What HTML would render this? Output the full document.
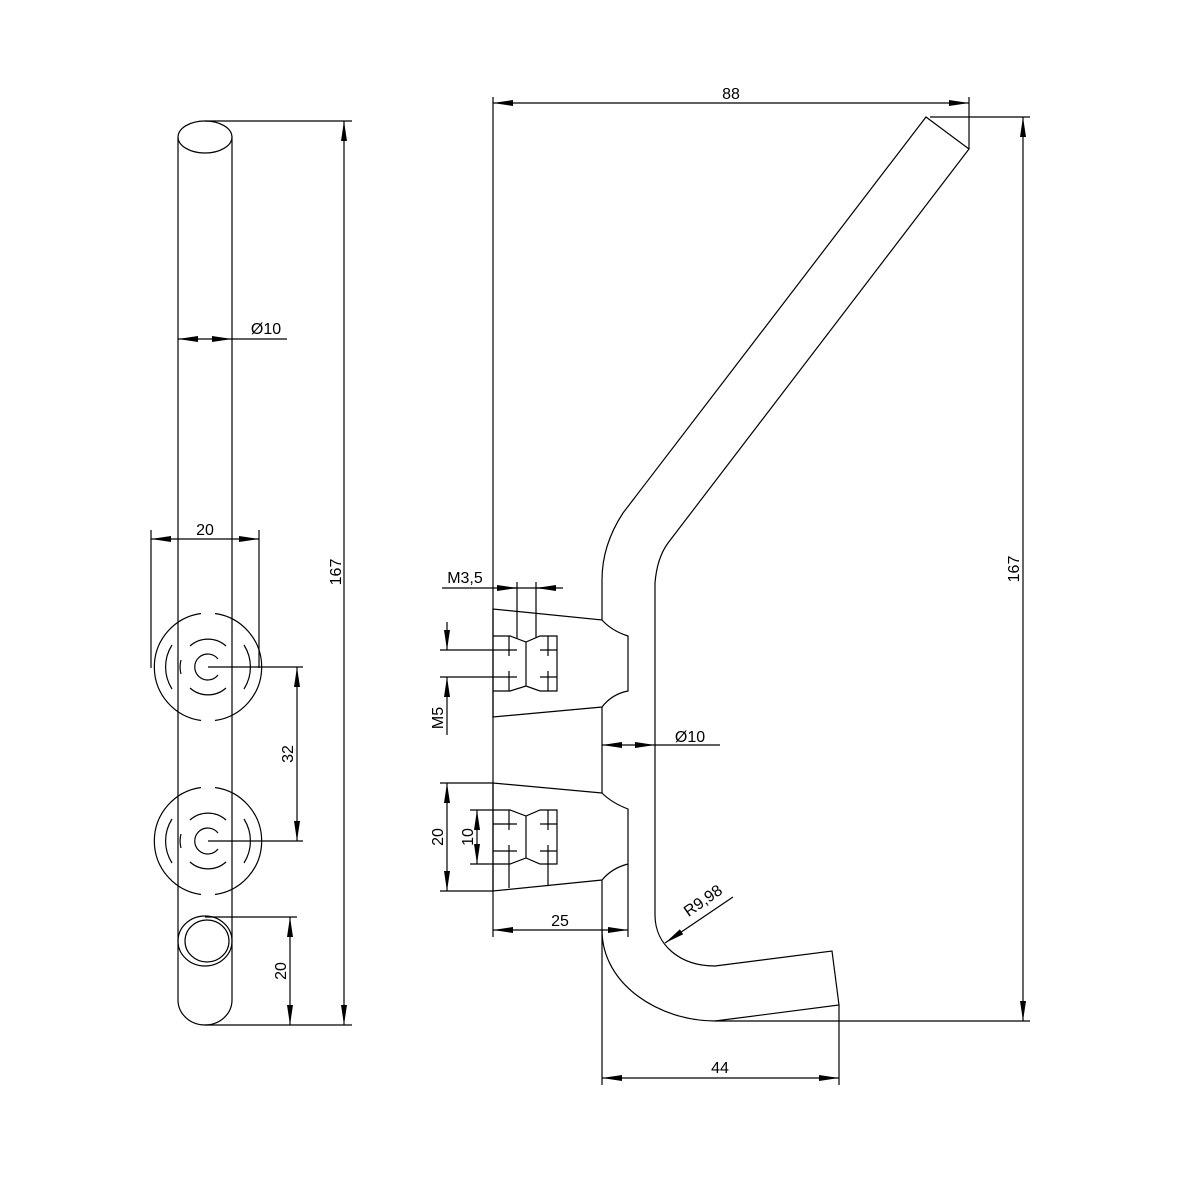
<!DOCTYPE html>
<html><head><meta charset="utf-8"><style>
html,body{margin:0;padding:0;background:#fff;}
svg{display:block;}
text{font-family:"Liberation Sans",sans-serif;font-size:16px;fill:#000;}
</style></head><body>
<svg width="1200" height="1200" viewBox="0 0 1200 1200" xmlns="http://www.w3.org/2000/svg">
<defs>
<marker id="a" viewBox="0 0 20 6" refX="20" refY="3" markerWidth="20" markerHeight="6" markerUnits="userSpaceOnUse" orient="auto-start-reverse"><path d="M0,0 L20,3 L0,6 z" fill="#000"/></marker>
</defs>
<g fill="none" stroke="#000" stroke-width="1.2">
<!-- LEFT VIEW -->
<line x1="178" y1="137" x2="178" y2="1000"/>
<line x1="232" y1="137" x2="232" y2="1000"/>
<ellipse cx="205" cy="137" rx="27" ry="16"/>
<path d="M178,1000 A27,25 0 0 0 232,1000"/>
<ellipse cx="205" cy="941" rx="27" ry="25"/>
<ellipse cx="207" cy="941" rx="22" ry="21"/>
<g id="circ">
<path d="M215,613.5 A54,54 0 0 1 215,720.5"/>
<path d="M201,720.5 A54,54 0 0 1 201,613.5"/>
<path d="M172,645 A41,41 0 0 0 172,689"/>
<path d="M244,645 A41,41 0 0 1 244,689"/>
<path d="M190,646 A27,27 0 0 1 226,646"/>
<path d="M226,688 A27,27 0 0 1 190,688"/>
<path d="M181,660 A27,27 0 0 0 181,674"/>
<path d="M218,659 A13,13 0 1 0 218,675"/>
</g>
<use href="#circ" transform="translate(0,174)"/>
<line x1="208" y1="667" x2="303" y2="667"/>
<line x1="208" y1="841" x2="303" y2="841"/>
<line x1="297" y1="667" x2="297" y2="841" marker-start="url(#a)" marker-end="url(#a)"/>
<line x1="205" y1="917" x2="297" y2="917"/>
<line x1="205" y1="1025" x2="352" y2="1025"/>
<line x1="290" y1="917" x2="290" y2="1025" marker-start="url(#a)" marker-end="url(#a)"/>
<line x1="205" y1="121" x2="352" y2="121"/>
<line x1="344" y1="121" x2="344" y2="1025" marker-start="url(#a)" marker-end="url(#a)"/>
<line x1="151" y1="530" x2="151" y2="668"/>
<line x1="259" y1="530" x2="259" y2="668"/>
<line x1="151" y1="539" x2="259" y2="539" marker-start="url(#a)" marker-end="url(#a)"/>
<line x1="178" y1="339" x2="232" y2="339" marker-start="url(#a)" marker-end="url(#a)"/>
<line x1="232" y1="339" x2="287" y2="339"/>

<!-- RIGHT VIEW: hook -->
<path d="M602,880 L602,930 C602,985 660,1021 715,1021 L839,1005 L832,951 L715,966 C680,966 655,945 655,915 L655,583 Q657,558 668,543 L969,149 L926,117 L623,513 Q602,545 602,580 L602,612"/>
<path d="M602,707 L602,793"/>
<!-- upper bracket -->
<path d="M602,612 L602,620 L493,609 L493,717 L602,707 Q612,694 628,691 L628,636 Q612,631 602,620"/>
<path d="M493,636 L510,636 L526,642 L540,636 L557,636 L557,691 L540,691 L526,686 L510,691 L493,691"/>
<line x1="526" y1="642" x2="526" y2="686"/>
<line x1="440" y1="650" x2="517" y2="650"/><line x1="540" y1="650" x2="557" y2="650"/>
<line x1="440" y1="677" x2="517" y2="677"/><line x1="540" y1="677" x2="557" y2="677"/>
<line x1="509" y1="636" x2="509" y2="656"/><line x1="548" y1="636" x2="548" y2="656"/>
<line x1="509" y1="671" x2="509" y2="691"/><line x1="548" y1="671" x2="548" y2="691"/>
<line x1="517" y1="582" x2="517" y2="638"/>
<line x1="536" y1="582" x2="536" y2="638"/>
<line x1="442" y1="588" x2="563" y2="588"/>
<line x1="497" y1="588" x2="517" y2="588" marker-end="url(#a)"/>
<line x1="556" y1="588" x2="536" y2="588" marker-end="url(#a)"/>
<line x1="447" y1="622" x2="447" y2="650" marker-end="url(#a)"/>
<line x1="447" y1="735" x2="447" y2="677" marker-end="url(#a)"/>
<!-- lower bracket -->
<path d="M602,793 L493,783 L493,891 L602,880 Q612,868 628,864 L628,809 Q612,803 602,793"/>
<path d="M493,810 L510,810 L526,816 L540,810 L557,810 L557,864 L540,864 L526,858 L510,864 L493,864"/>
<line x1="526" y1="816" x2="526" y2="858"/>
<line x1="470" y1="810" x2="493" y2="810"/><line x1="470" y1="864" x2="493" y2="864"/>
<line x1="493" y1="824" x2="517" y2="824"/><line x1="540" y1="824" x2="557" y2="824"/>
<line x1="493" y1="851" x2="517" y2="851"/><line x1="540" y1="851" x2="557" y2="851"/>
<line x1="509" y1="810" x2="509" y2="830"/><line x1="548" y1="810" x2="548" y2="830"/>
<line x1="509" y1="845" x2="509" y2="888"/><line x1="548" y1="845" x2="548" y2="886"/>
<line x1="477" y1="810" x2="477" y2="864" marker-start="url(#a)" marker-end="url(#a)"/>
<line x1="440" y1="783" x2="493" y2="783"/><line x1="440" y1="891" x2="493" y2="891"/>
<line x1="447" y1="783" x2="447" y2="891" marker-start="url(#a)" marker-end="url(#a)"/>
<line x1="628" y1="864" x2="628" y2="937"/>
<line x1="493" y1="930" x2="628" y2="930" marker-start="url(#a)" marker-end="url(#a)"/>
<line x1="602" y1="745" x2="655" y2="745" marker-start="url(#a)" marker-end="url(#a)"/>
<line x1="655" y1="745" x2="720" y2="745"/>
<!-- overall dims -->
<line x1="493" y1="97" x2="493" y2="937"/>
<line x1="969" y1="97" x2="969" y2="149"/>
<line x1="493" y1="103" x2="969" y2="103" marker-start="url(#a)" marker-end="url(#a)"/>
<line x1="930" y1="117" x2="1030" y2="117"/>
<line x1="715" y1="1021" x2="1030" y2="1021"/>
<line x1="1023" y1="117" x2="1023" y2="1021" marker-start="url(#a)" marker-end="url(#a)"/>
<line x1="602" y1="930" x2="602" y2="1085"/>
<line x1="839" y1="1005" x2="839" y2="1085"/>
<line x1="602" y1="1078" x2="839" y2="1078" marker-start="url(#a)" marker-end="url(#a)"/>
<line x1="733" y1="897" x2="665" y2="943" marker-end="url(#a)"/>
</g>
<text x="205" y="535" text-anchor="middle">20</text>
<text x="266" y="334" text-anchor="middle">Ø10</text>
<text transform="translate(341,572) rotate(-90)" text-anchor="middle">167</text>
<text transform="translate(293,754) rotate(-90)" text-anchor="middle">32</text>
<text transform="translate(286,971) rotate(-90)" text-anchor="middle">20</text>
<text x="731" y="99" text-anchor="middle">88</text>
<text transform="translate(1019,569) rotate(-90)" text-anchor="middle">167</text>
<text x="465" y="583" text-anchor="middle">M3,5</text>
<text transform="translate(443,718) rotate(-90)" text-anchor="middle">M5</text>
<text transform="translate(443,837) rotate(-90)" text-anchor="middle">20</text>
<text transform="translate(473,837) rotate(-90)" text-anchor="middle">10</text>
<text x="560" y="926" text-anchor="middle">25</text>
<text x="690" y="742" text-anchor="middle">Ø10</text>
<text x="720" y="1073" text-anchor="middle">44</text>
<text transform="translate(706,905) rotate(-35)" text-anchor="middle">R9,98</text>
</svg>
</body></html>
